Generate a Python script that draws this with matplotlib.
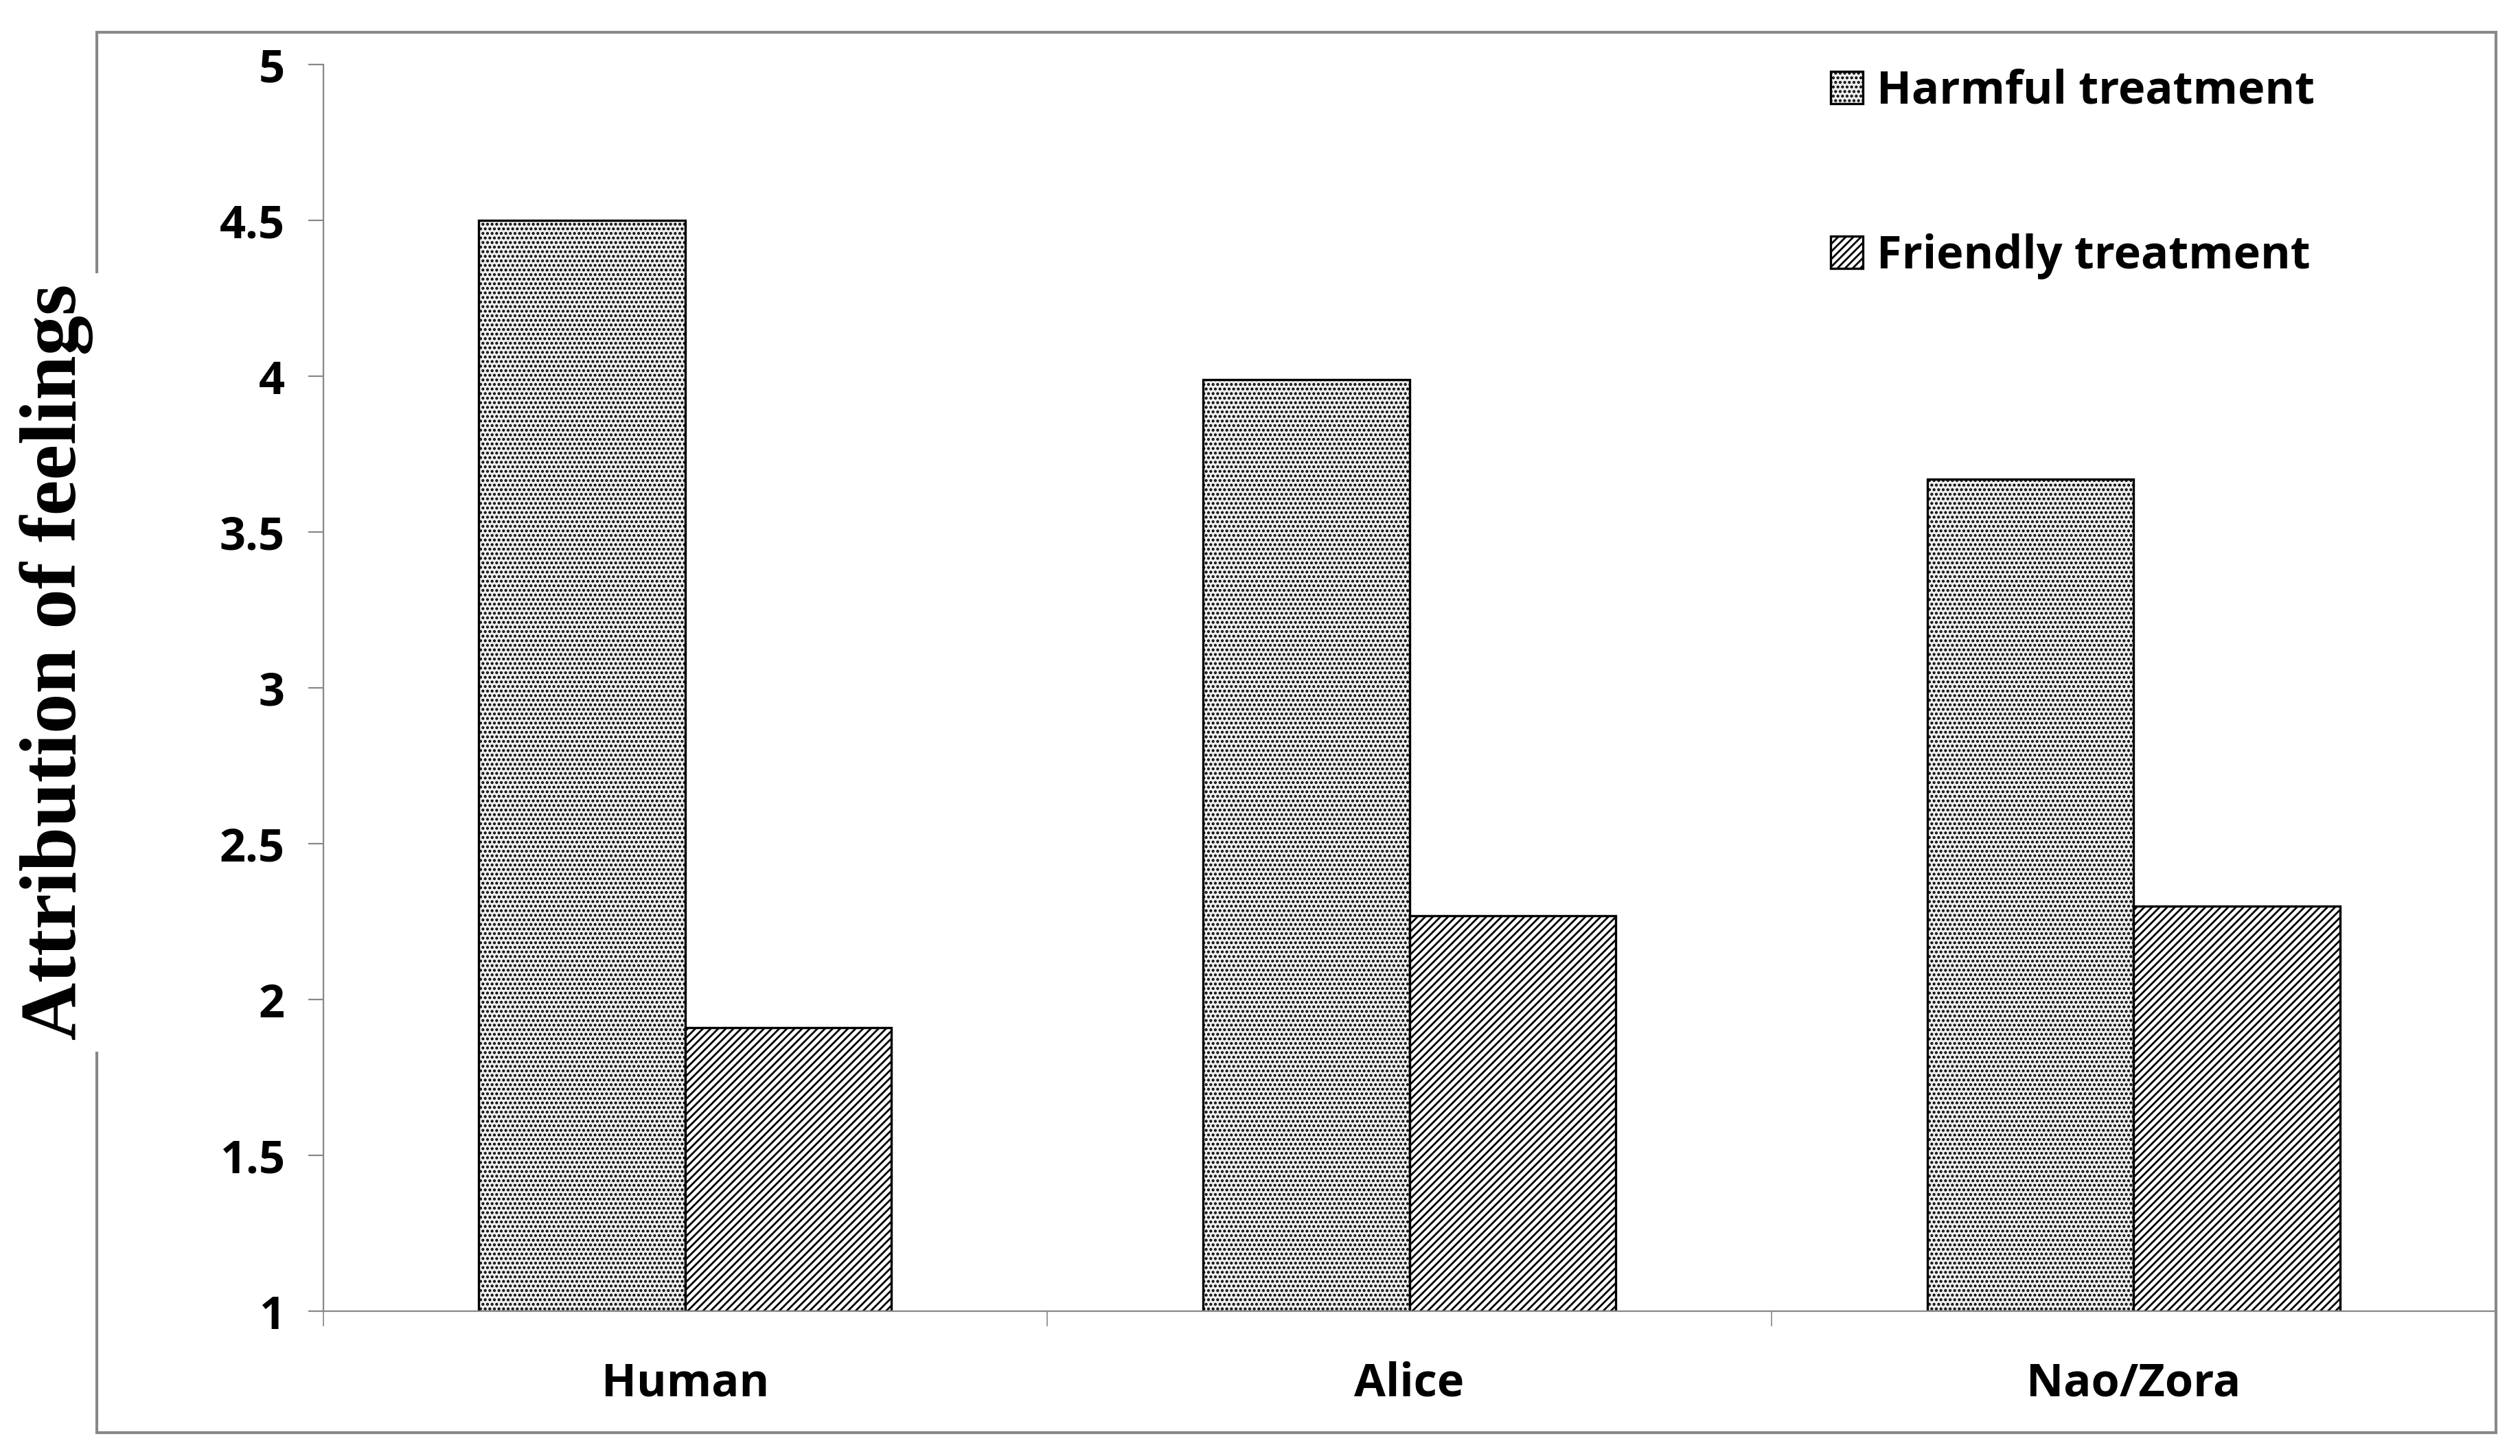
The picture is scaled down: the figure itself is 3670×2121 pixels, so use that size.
import matplotlib.pyplot as plt
from matplotlib.patches import Rectangle
import numpy as np

plt.rcParams['hatch.linewidth'] = 1.0

categories = ['Human', 'Alice', 'Nao/Zora']
harmful = [4.5, 3.99, 3.67]
friendly = [1.91, 2.27, 2.30]

fig = plt.figure(figsize=(18.35, 10.605), dpi=200)
fig.patches.append(Rectangle((60/1560, 1-887/901.5), 1485/1560, 867/901.5,
                             transform=fig.transFigure, fill=False, ec='#888888', lw=1.5))
ax = fig.add_axes([200/1560, 1-812/901.5, 1345/1560, 772/901.5])

x = np.arange(len(categories))
w = 0.285
ax.bar(x - w/2, np.array(harmful) - 1, w, bottom=1, color='#eeeeee', edgecolor='black',
       hatch='.....', lw=1.2, label='Harmful treatment')
ax.bar(x + w/2, np.array(friendly) - 1, w, bottom=1, color='white', edgecolor='black',
       hatch='//////', lw=1.2, label='Friendly treatment')

ax.set_xlim(-0.5, 2.5)
ax.set_ylim(1, 5)
ax.set_yticks(np.arange(1, 5.01, 0.5))
ax.set_yticklabels(['1', '1.5', '2', '2.5', '3', '3.5', '4', '4.5', '5'])
ax.set_xticks(x)
ax.set_xticklabels(categories)
ax.set_xticks([-0.5, 0.5, 1.5, 2.5], minor=True)
ax.tick_params(axis='x', which='major', length=0, pad=26)
ax.tick_params(axis='x', which='minor', length=8, color='#888888')
ax.tick_params(axis='y', length=8, color='#888888', pad=12)
for lab in ax.get_xticklabels() + ax.get_yticklabels():
    lab.set_fontsize(24)
    lab.set_fontweight('bold')
    lab.set_fontfamily('Open Sans')
ax.spines['top'].set_visible(False)
ax.spines['right'].set_visible(False)
ax.spines['left'].set_color('#888888')
ax.spines['bottom'].set_color('#888888')

fig.text(35/1560, 1-410/901.5, 'Attribution of feelings', rotation=90, ha='center', va='center',
         fontsize=42, fontweight='bold', family='Liberation Serif',
         bbox=dict(facecolor='white', edgecolor='none', pad=6))

leg = ax.legend(loc='upper left', bbox_to_anchor=(0.675, 1.03), frameon=False,
                prop={'family': 'Open Sans', 'weight': 'bold', 'size': 24},
                labelspacing=2.6, handlelength=0.7, handleheight=0.7, handletextpad=0.3)

fig.savefig('out.png', dpi=200)
